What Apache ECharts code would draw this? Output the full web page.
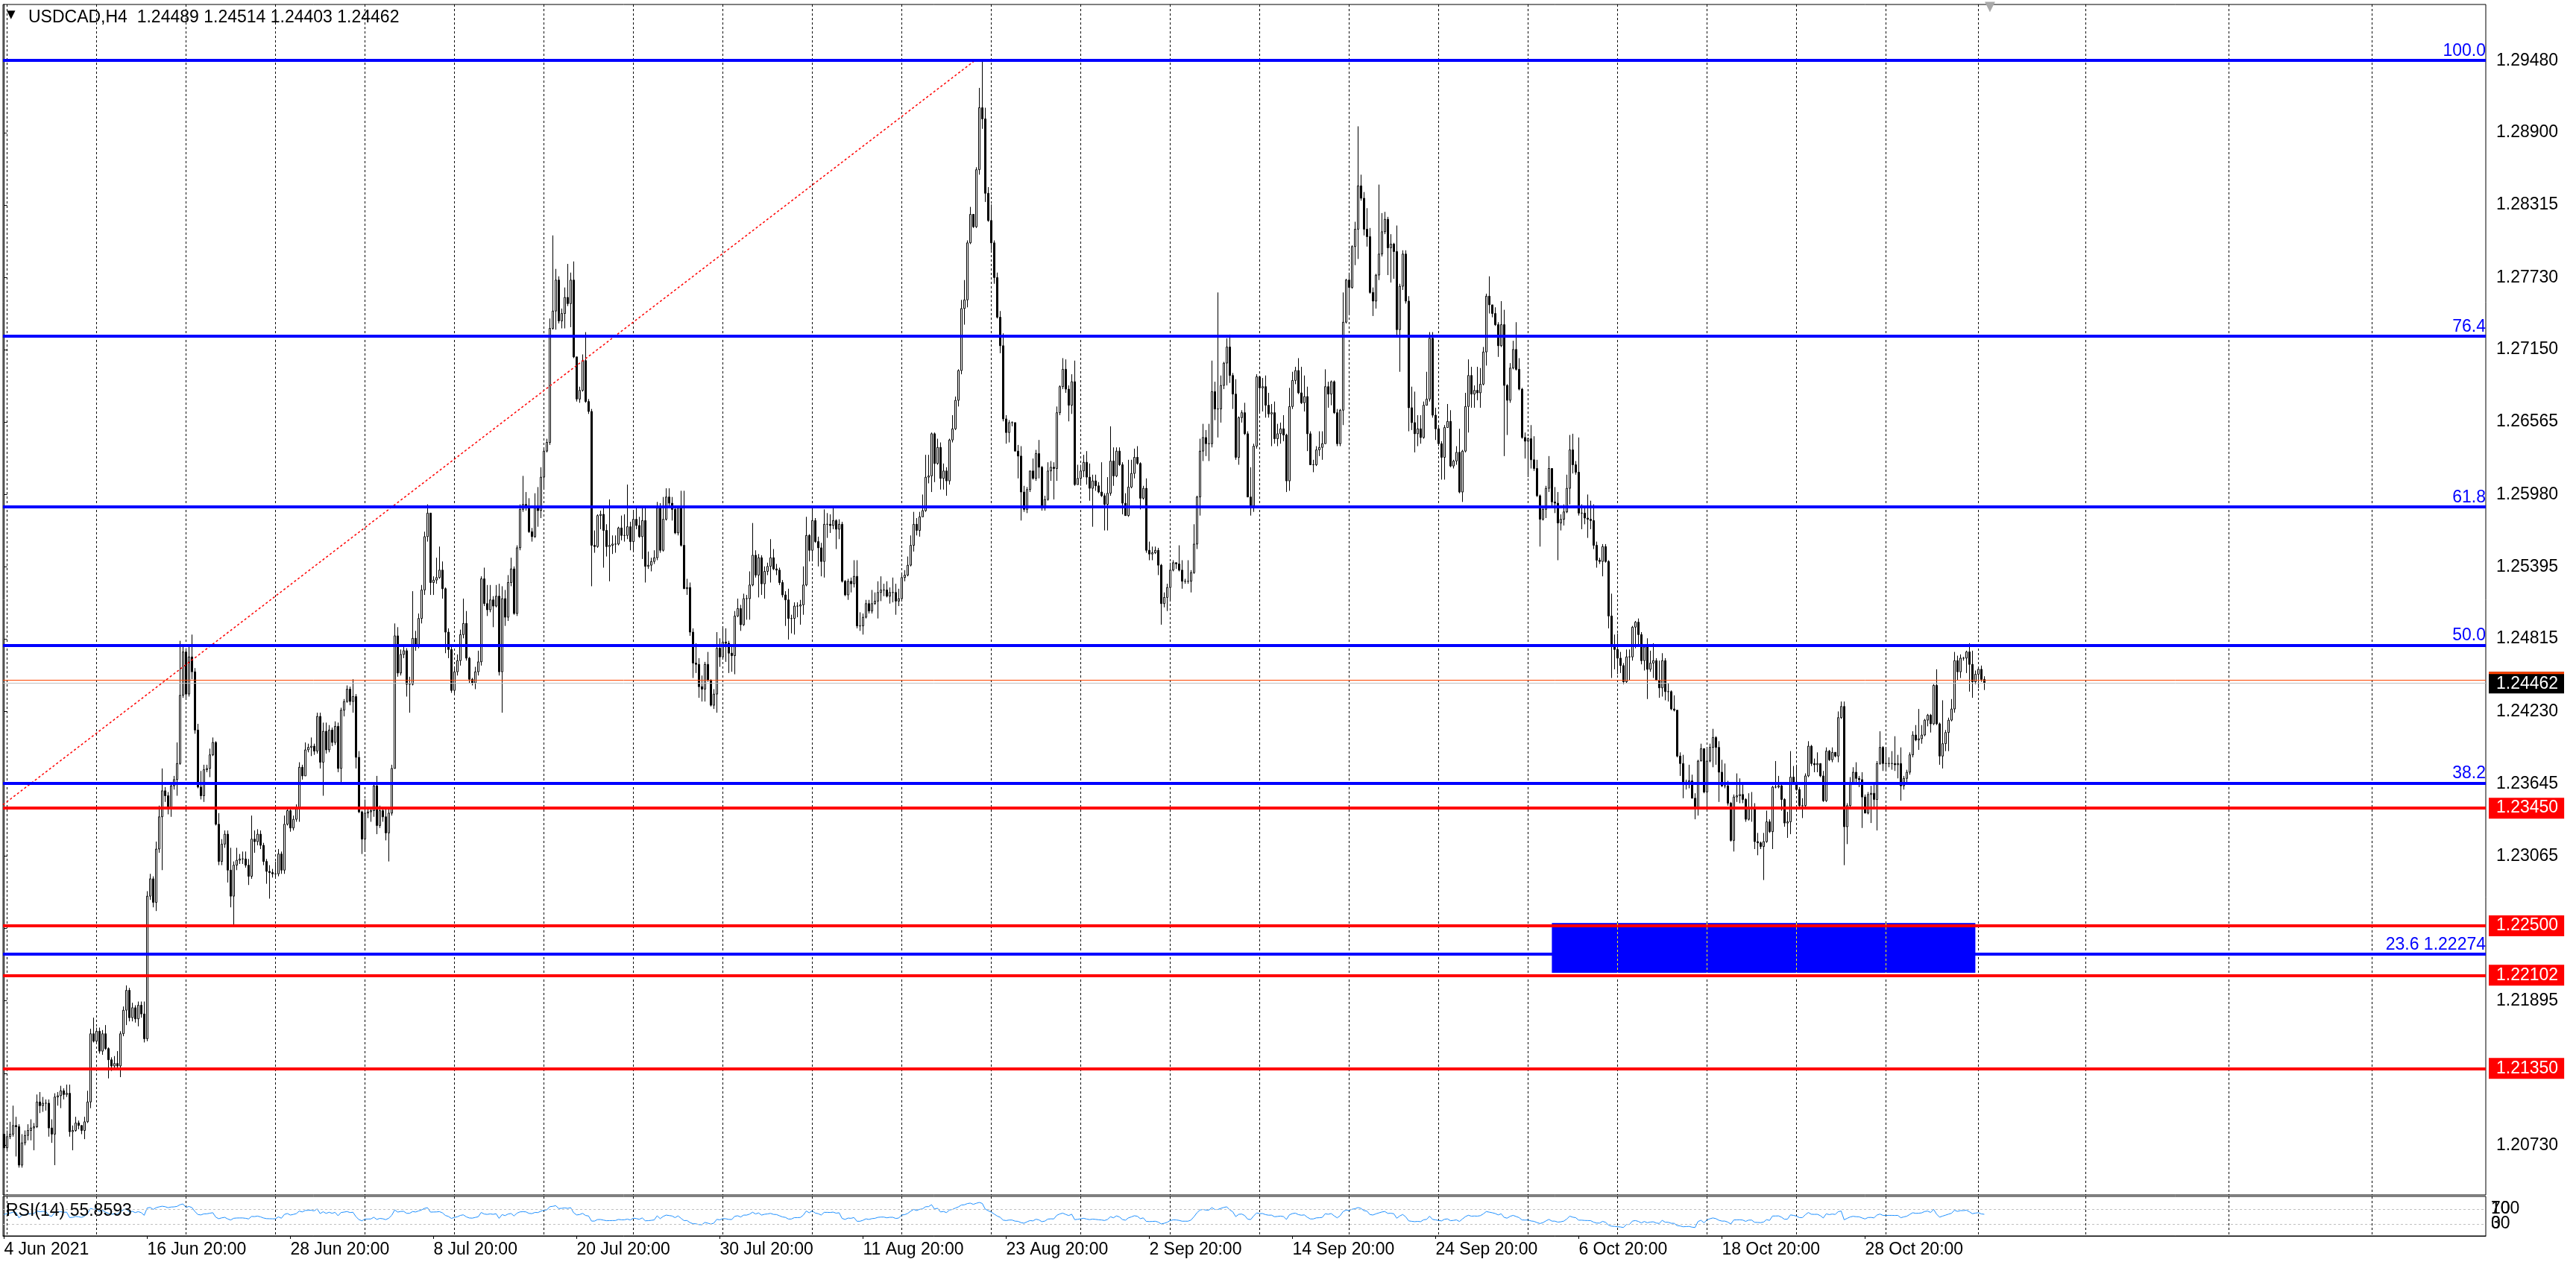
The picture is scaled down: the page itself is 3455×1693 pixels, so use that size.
<!DOCTYPE html>
<html><head><meta charset="utf-8">
<script src="https://cdn.jsdelivr.net/npm/echarts@6/dist/echarts.min.js"></script>
<style>html,body{margin:0;padding:0;background:#fff;overflow:hidden}#c{width:3455px;height:1693px}</style>
</head><body><div id="c"></div><script>
const symbolText = 'USDCAD,H4  1.24489 1.24514 1.24403 1.24462';
const rsiText = 'RSI(14) 55.8593';
const rsiPeriod = 14;
const firstOpen = 1.2082; // each later H4 bar opens at the previous close
const closes = [
1.2071,1.2080,1.2082,1.2089,1.2088,1.2057,1.2075,1.2081,1.2085,1.2087,
1.2088,1.2108,1.2105,1.2107,1.2107,1.2087,1.2082,1.2112,1.2113,1.2117,
1.2114,1.2115,1.2084,1.2085,1.2091,1.2089,1.2085,1.2092,1.2108,1.2163,
1.2157,1.2165,1.2149,1.2163,1.2151,1.2142,1.2137,1.2139,1.2137,1.2163,
1.2182,1.2198,1.2176,1.2184,1.2175,1.2186,1.2179,1.2159,1.2274,1.2288,
1.2269,1.2312,1.2338,1.2359,1.2355,1.2345,1.2363,1.2368,1.2381,1.2436,
1.2471,1.2437,1.2467,1.2455,1.2408,1.2362,1.2355,1.2376,1.2377,1.2388,
1.2398,1.2332,1.2302,1.2316,1.2324,1.2295,1.2274,1.2299,1.2303,1.2304,
1.2304,1.2299,1.2290,1.2320,1.2318,1.2324,1.2315,1.2302,1.2294,1.2293,
1.2292,1.2292,1.2308,1.2295,1.2332,1.2343,1.2329,1.2336,1.2345,1.2378,
1.2371,1.2392,1.2394,1.2395,1.2391,1.2419,1.2382,1.2407,1.2392,1.2408,
1.2398,1.2411,1.2377,1.2424,1.2431,1.2441,1.2431,1.2435,1.2386,1.2342,
1.2320,1.2341,1.2342,1.2343,1.2363,1.2331,1.2343,1.2338,1.2325,1.2341,
1.2377,1.2484,1.2454,1.2469,1.2472,1.2445,1.2445,1.2482,1.2476,1.2498,
1.2521,1.2564,1.2583,1.2527,1.2529,1.2531,1.2537,1.2522,1.2487,1.2473,
1.2440,1.2455,1.2464,1.2485,1.2494,1.2466,1.2449,1.2446,1.2455,1.2463,
1.2530,1.2510,1.2505,1.2513,1.2508,1.2516,1.2455,1.2514,1.2499,1.2527,
1.2538,1.2502,1.2555,1.2586,1.2590,1.2588,1.2568,1.2564,1.2587,1.2585,
1.2612,1.2633,1.2640,1.2732,1.2746,1.2771,1.2738,1.2744,1.2757,1.2752,
1.2771,1.2709,1.2675,1.2682,1.2706,1.2673,1.2665,1.2557,1.2556,1.2581,
1.2582,1.2569,1.2556,1.2557,1.2558,1.2558,1.2571,1.2565,1.2565,1.2572,
1.2560,1.2578,1.2573,1.2564,1.2577,1.2540,1.2541,1.2544,1.2547,1.2587,
1.2553,1.2578,1.2596,1.2591,1.2586,1.2567,1.2587,1.2557,1.2522,1.2523,
1.2487,1.2462,1.2461,1.2443,1.2441,1.2461,1.2448,1.2428,1.2437,1.2474,
1.2467,1.2479,1.2478,1.2470,1.2468,1.2500,1.2506,1.2493,1.2514,1.2514,
1.2525,1.2549,1.2533,1.2547,1.2526,1.2536,1.2540,1.2547,1.2538,1.2537,
1.2527,1.2517,1.2513,1.2498,1.2498,1.2508,1.2508,1.2509,1.2525,1.2565,
1.2553,1.2577,1.2560,1.2555,1.2544,1.2574,1.2574,1.2573,1.2577,1.2570,
1.2574,1.2528,1.2517,1.2528,1.2526,1.2532,1.2492,1.2492,1.2499,1.2510,
1.2504,1.2510,1.2512,1.2519,1.2521,1.2521,1.2516,1.2519,1.2519,1.2512,
1.2514,1.2531,1.2533,1.2541,1.2557,1.2574,1.2569,1.2580,1.2585,1.2612,
1.2613,1.2647,1.2623,1.2636,1.2611,1.2617,1.2609,1.2642,1.2651,1.2674,
1.2698,1.2748,1.2755,1.2801,1.2824,1.2814,1.2860,1.2910,1.2901,1.2841,
1.2819,1.2801,1.2773,1.2741,1.2718,1.2659,1.2648,1.2656,1.2656,1.2633,
1.2629,1.2600,1.2586,1.2602,1.2617,1.2611,1.2631,1.2620,1.2587,1.2594,
1.2617,1.2620,1.2619,1.2664,1.2685,1.2699,1.2683,1.2670,1.2689,1.2606,
1.2611,1.2617,1.2624,1.2612,1.2603,1.2609,1.2605,1.2600,1.2597,1.2590,
1.2599,1.2625,1.2613,1.2633,1.2622,1.2591,1.2581,1.2604,1.2615,1.2628,
1.2623,1.2595,1.2603,1.2553,1.2550,1.2551,1.2553,1.2541,1.2510,1.2515,
1.2523,1.2537,1.2543,1.2542,1.2537,1.2528,1.2528,1.2528,1.2535,1.2558,
1.2596,1.2633,1.2644,1.2639,1.2639,1.2681,1.2667,1.2667,1.2686,1.2704,
1.2717,1.2694,1.2679,1.2628,1.2660,1.2664,1.2647,1.2596,1.2589,1.2637,
1.2693,1.2684,1.2685,1.2670,1.2663,1.2664,1.2643,1.2647,1.2651,1.2646,
1.2609,1.2669,1.2690,1.2698,1.2680,1.2672,1.2677,1.2647,1.2622,1.2622,
1.2634,1.2636,1.2639,1.2685,1.2679,1.2689,1.2664,1.2639,1.2666,1.2737,
1.2771,1.2765,1.2798,1.2812,1.2847,1.2837,1.2812,1.2806,1.2761,1.2754,
1.2775,1.2792,1.2810,1.2820,1.2797,1.2800,1.2794,1.2731,1.2766,1.2792,
1.2754,1.2668,1.2656,1.2647,1.2651,1.2644,1.2670,1.2675,1.2724,1.2662,
1.2651,1.2639,1.2628,1.2652,1.2657,1.2621,1.2625,1.2632,1.2600,1.2633,
1.2669,1.2694,1.2679,1.2682,1.2680,1.2687,1.2713,1.2758,1.2751,1.2744,
1.2735,1.2718,1.2735,1.2686,1.2674,1.2700,1.2715,1.2699,1.2683,1.2644,
1.2641,1.2643,1.2626,1.2619,1.2597,1.2578,1.2586,1.2603,1.2619,1.2592,
1.2591,1.2575,1.2578,1.2584,1.2603,1.2634,1.2622,1.2616,1.2583,1.2583,
1.2579,1.2578,1.2577,1.2557,1.2545,1.2544,1.2556,1.2544,1.2500,1.2477,
1.2473,1.2466,1.2460,1.2447,1.2467,1.2467,1.2491,1.2495,1.2485,1.2464,
1.2475,1.2457,1.2462,1.2464,1.2448,1.2442,1.2464,1.2439,1.2439,1.2425,
1.2424,1.2387,1.2381,1.2365,1.2366,1.2367,1.2353,1.2345,1.2383,1.2393,
1.2358,1.2383,1.2394,1.2402,1.2394,1.2374,1.2363,1.2363,1.2349,1.2319,
1.2354,1.2355,1.2356,1.2352,1.2336,1.2346,1.2346,1.2318,1.2317,1.2314,
1.2318,1.2334,1.2326,1.2362,1.2362,1.2363,1.2352,1.2333,1.2334,1.2370,
1.2366,1.2360,1.2347,1.2347,1.2371,1.2395,1.2381,1.2380,1.2381,1.2371,
1.2351,1.2391,1.2384,1.2390,1.2387,1.2418,1.2427,1.2330,1.2347,1.2365,
1.2374,1.2369,1.2368,1.2354,1.2341,1.2356,1.2357,1.2352,1.2381,1.2394,
1.2381,1.2381,1.2381,1.2381,1.2380,1.2381,1.2363,1.2369,1.2374,1.2388,
1.2404,1.2400,1.2401,1.2404,1.2416,1.2420,1.2413,1.2444,1.2413,1.2387,
1.2397,1.2406,1.2416,1.2425,1.2464,1.2455,1.2466,1.2466,1.2471,1.2461,
1.2447,1.2453,1.2457,1.24489,1.24462
];
const highs = [
1.2084,1.2085,1.2092,1.2105,1.2096,1.2090,1.2082,1.2085,1.2090,1.2094,
1.2091,1.2114,1.2116,1.2112,1.2110,1.2110,1.2094,1.2115,1.2116,1.2121,
1.2119,1.2122,1.2122,1.2089,1.2096,1.2093,1.2089,1.2096,1.2117,1.2167,
1.2176,1.2168,1.2168,1.2166,1.2170,1.2152,1.2144,1.2145,1.2149,1.2165,
1.2185,1.2202,1.2200,1.2188,1.2186,1.2189,1.2189,1.2189,1.2278,1.2292,
1.2290,1.2318,1.2347,1.2377,1.2362,1.2358,1.2366,1.2371,1.2398,1.2480,
1.2475,1.2474,1.2475,1.2485,1.2458,1.2413,1.2375,1.2380,1.2380,1.2393,
1.2402,1.2399,1.2341,1.2320,1.2327,1.2327,1.2313,1.2302,1.2313,1.2308,
1.2310,1.2310,1.2304,1.2339,1.2327,1.2328,1.2327,1.2317,1.2304,1.2299,
1.2296,1.2302,1.2312,1.2310,1.2339,1.2346,1.2346,1.2339,1.2348,1.2382,
1.2380,1.2398,1.2397,1.2402,1.2397,1.2422,1.2422,1.2414,1.2414,1.2412,
1.2410,1.2415,1.2414,1.2426,1.2433,1.2444,1.2443,1.2449,1.2437,1.2391,
1.2343,1.2352,1.2346,1.2346,1.2366,1.2371,1.2347,1.2345,1.2345,1.2345,
1.2380,1.2494,1.2491,1.2473,1.2476,1.2474,1.2451,1.2520,1.2488,1.2502,
1.2525,1.2568,1.2590,1.2583,1.2532,1.2547,1.2556,1.2544,1.2523,1.2490,
1.2475,1.2459,1.2469,1.2489,1.2514,1.2504,1.2467,1.2450,1.2459,1.2472,
1.2532,1.2539,1.2525,1.2525,1.2516,1.2525,1.2526,1.2524,1.2521,1.2533,
1.2547,1.2540,1.2557,1.2590,1.2613,1.2600,1.2595,1.2571,1.2599,1.2604,
1.2620,1.2636,1.2643,1.2740,1.2807,1.2780,1.2774,1.2748,1.2765,1.2784,
1.2777,1.2786,1.2709,1.2685,1.2711,1.2729,1.2675,1.2667,1.2569,1.2582,
1.2585,1.2587,1.2574,1.2594,1.2565,1.2565,1.2572,1.2581,1.2582,1.2606,
1.2576,1.2584,1.2589,1.2580,1.2589,1.2588,1.2552,1.2547,1.2553,1.2592,
1.2591,1.2596,1.2603,1.2603,1.2596,1.2588,1.2588,1.2601,1.2601,1.2530,
1.2527,1.2490,1.2478,1.2466,1.2452,1.2463,1.2471,1.2449,1.2441,1.2487,
1.2482,1.2491,1.2490,1.2480,1.2475,1.2504,1.2514,1.2509,1.2518,1.2517,
1.2536,1.2575,1.2553,1.2550,1.2549,1.2540,1.2543,1.2562,1.2554,1.2542,
1.2539,1.2529,1.2520,1.2522,1.2501,1.2511,1.2511,1.2513,1.2540,1.2580,
1.2566,1.2587,1.2579,1.2564,1.2559,1.2586,1.2583,1.2582,1.2587,1.2578,
1.2578,1.2576,1.2529,1.2530,1.2531,1.2545,1.2545,1.2503,1.2502,1.2513,
1.2513,1.2521,1.2519,1.2528,1.2532,1.2526,1.2528,1.2523,1.2531,1.2526,
1.2522,1.2535,1.2537,1.2548,1.2565,1.2584,1.2579,1.2584,1.2598,1.2630,
1.2630,1.2648,1.2648,1.2643,1.2640,1.2623,1.2620,1.2643,1.2662,1.2677,
1.2699,1.2755,1.2771,1.2803,1.2830,1.2824,1.2862,1.2926,1.29484,1.2910,
1.2846,1.2832,1.2803,1.2777,1.2746,1.2728,1.2662,1.2658,1.2657,1.2653,
1.2638,1.2637,1.2605,1.2604,1.2617,1.2627,1.2634,1.2642,1.2621,1.2597,
1.2624,1.2625,1.2624,1.2669,1.2686,1.2708,1.2707,1.2686,1.2695,1.2706,
1.2622,1.2622,1.2630,1.2633,1.2623,1.2614,1.2614,1.2608,1.2624,1.2599,
1.2612,1.2653,1.2636,1.2636,1.2636,1.2624,1.2599,1.2626,1.2626,1.2635,
1.2637,1.2624,1.2605,1.2611,1.2560,1.2556,1.2556,1.2555,1.2542,1.2519,
1.2526,1.2543,1.2545,1.2543,1.2557,1.2545,1.2530,1.2545,1.2537,1.2574,
1.2597,1.2643,1.2655,1.2650,1.2655,1.2706,1.2689,1.2761,1.2694,1.2705,
1.2724,1.2727,1.2696,1.2691,1.2661,1.2666,1.2672,1.2649,1.2620,1.2639,
1.2695,1.2689,1.2692,1.2694,1.2680,1.2671,1.2673,1.2655,1.2656,1.2662,
1.2647,1.2684,1.2697,1.2701,1.2708,1.2701,1.2694,1.2685,1.2649,1.2626,
1.2637,1.2649,1.2649,1.2699,1.2689,1.2690,1.2690,1.2667,1.2667,1.2761,
1.2772,1.2777,1.2799,1.2818,1.2895,1.2856,1.2842,1.2829,1.2813,1.2765,
1.2776,1.2848,1.2825,1.2826,1.2822,1.2808,1.2801,1.2815,1.2768,1.2795,
1.2795,1.2758,1.2685,1.2681,1.2662,1.2662,1.2673,1.2697,1.2729,1.2729,
1.2668,1.2654,1.2641,1.2654,1.2671,1.2666,1.2626,1.2637,1.2651,1.2634,
1.2680,1.2707,1.2701,1.2686,1.2701,1.2700,1.2717,1.2760,1.2774,1.2751,
1.2749,1.2737,1.2754,1.2747,1.2687,1.2704,1.2722,1.2737,1.2708,1.2684,
1.2648,1.2644,1.2654,1.2645,1.2626,1.2598,1.2587,1.2605,1.2629,1.2619,
1.2604,1.2600,1.2582,1.2590,1.2614,1.2646,1.2647,1.2625,1.2644,1.2590,
1.2587,1.2598,1.2593,1.2590,1.2560,1.2547,1.2558,1.2558,1.2545,1.2518,
1.2485,1.2486,1.2471,1.2462,1.2473,1.2473,1.2492,1.2496,1.2498,1.2487,
1.2477,1.2482,1.2472,1.2478,1.2466,1.2464,1.2470,1.2466,1.2446,1.2440,
1.2436,1.2424,1.2390,1.2388,1.2368,1.2380,1.2372,1.2357,1.2384,1.2397,
1.2393,1.2394,1.2397,1.2409,1.2403,1.2399,1.2384,1.2381,1.2367,1.2350,
1.2356,1.2373,1.2369,1.2365,1.2353,1.2357,1.2358,1.2349,1.2325,1.2318,
1.2325,1.2343,1.2336,1.2363,1.2383,1.2371,1.2364,1.2353,1.2342,1.2391,
1.2379,1.2380,1.2362,1.2353,1.2373,1.2399,1.2396,1.2385,1.2390,1.2373,
1.2375,1.2394,1.2392,1.2394,1.2390,1.2423,1.2431,1.2431,1.2349,1.2370,
1.2378,1.2382,1.2371,1.2374,1.2356,1.2358,1.2363,1.2365,1.2383,1.2407,
1.2395,1.2394,1.2386,1.2391,1.2403,1.2388,1.2394,1.2371,1.2376,1.2390,
1.2407,1.2412,1.2425,1.2412,1.2417,1.2421,1.2421,1.2445,1.2457,1.2414,
1.2432,1.2408,1.2418,1.2433,1.2471,1.2468,1.2469,1.2467,1.2472,1.2478,
1.2472,1.2456,1.2458,1.2460,1.24514
];
const lows = [
1.2069,1.2068,1.2078,1.2080,1.2064,1.2055,1.2055,1.2073,1.2077,1.2077,
1.2069,1.2087,1.2099,1.2100,1.2101,1.2080,1.2075,1.2057,1.2105,1.2103,
1.2110,1.2112,1.2080,1.2069,1.2084,1.2086,1.2082,1.2078,1.2091,1.2103,
1.2156,1.2155,1.2147,1.2146,1.2150,1.2127,1.2133,1.2135,1.2135,1.2128,
1.2161,1.2170,1.2173,1.2173,1.2172,1.2169,1.2176,1.2156,1.2157,1.2271,
1.2265,1.2262,1.2309,1.2295,1.2350,1.2340,1.2338,1.2360,1.2355,1.2380,
1.2434,1.2434,1.2435,1.2449,1.2405,1.2361,1.2352,1.2350,1.2374,1.2370,
1.2387,1.2331,1.2299,1.2299,1.2313,1.2285,1.2265,1.2251,1.2295,1.2300,
1.2300,1.2297,1.2283,1.2288,1.2309,1.2315,1.2312,1.2299,1.2284,1.2272,
1.2289,1.2288,1.2290,1.2292,1.2292,1.2331,1.2326,1.2327,1.2334,1.2334,
1.2368,1.2371,1.2390,1.2387,1.2388,1.2389,1.2377,1.2355,1.2389,1.2390,
1.2395,1.2396,1.2374,1.2366,1.2419,1.2430,1.2428,1.2422,1.2377,1.2341,
1.2308,1.2311,1.2337,1.2334,1.2338,1.2324,1.2329,1.2334,1.2319,1.2302,
1.2339,1.2377,1.2451,1.2452,1.2466,1.2435,1.2422,1.2444,1.2472,1.2474,
1.2494,1.2517,1.2560,1.2517,1.2517,1.2526,1.2530,1.2514,1.2470,1.2466,
1.2438,1.2436,1.2452,1.2460,1.2482,1.2464,1.2446,1.2444,1.2441,1.2452,
1.2460,1.2508,1.2500,1.2503,1.2491,1.2507,1.2452,1.2422,1.2492,1.2496,
1.2524,1.2501,1.2500,1.2553,1.2584,1.2585,1.2567,1.2560,1.2563,1.2572,
1.2579,1.2602,1.2632,1.2638,1.2731,1.2731,1.2736,1.2732,1.2732,1.2750,
1.2733,1.2708,1.2673,1.2672,1.2681,1.2672,1.2663,1.2524,1.2551,1.2555,
1.2570,1.2539,1.2548,1.2528,1.2550,1.2551,1.2557,1.2561,1.2560,1.2562,
1.2553,1.2553,1.2570,1.2563,1.2546,1.2527,1.2538,1.2536,1.2542,1.2545,
1.2551,1.2552,1.2577,1.2587,1.2577,1.2566,1.2565,1.2556,1.2522,1.2517,
1.2484,1.2450,1.2454,1.2434,1.2431,1.2431,1.2447,1.2427,1.2425,1.2422,
1.2459,1.2466,1.2463,1.2454,1.2455,1.2453,1.2499,1.2488,1.2492,1.2497,
1.2497,1.2524,1.2531,1.2515,1.2517,1.2514,1.2533,1.2527,1.2537,1.2533,
1.2525,1.2515,1.2492,1.2481,1.2486,1.2485,1.2499,1.2493,1.2501,1.2524,
1.2544,1.2544,1.2559,1.2540,1.2532,1.2531,1.2563,1.2567,1.2570,1.2554,
1.2562,1.2527,1.2516,1.2513,1.2519,1.2523,1.2490,1.2488,1.2485,1.2498,
1.2502,1.2502,1.2509,1.2498,1.2512,1.2516,1.2515,1.2510,1.2511,1.2501,
1.2508,1.2512,1.2528,1.2532,1.2540,1.2552,1.2565,1.2564,1.2583,1.2584,
1.2607,1.2600,1.2608,1.2622,1.2602,1.2602,1.2597,1.2606,1.2640,1.2650,
1.2669,1.2695,1.2735,1.2749,1.2800,1.2813,1.2813,1.2856,1.2893,1.2834,
1.2818,1.2795,1.2768,1.2740,1.2712,1.2657,1.2639,1.2640,1.2653,1.2633,
1.2611,1.2577,1.2584,1.2583,1.2600,1.2610,1.2609,1.2611,1.2585,1.2585,
1.2593,1.2609,1.2594,1.2609,1.2662,1.2683,1.2680,1.2657,1.2663,1.2605,
1.2606,1.2605,1.2612,1.2606,1.2593,1.2572,1.2601,1.2599,1.2596,1.2569,
1.2569,1.2597,1.2605,1.2612,1.2621,1.2582,1.2581,1.2580,1.2603,1.2611,
1.2622,1.2586,1.2594,1.2551,1.2545,1.2545,1.2550,1.2533,1.2493,1.2507,
1.2504,1.2513,1.2536,1.2538,1.2536,1.2522,1.2526,1.2526,1.2519,1.2534,
1.2554,1.2581,1.2625,1.2629,1.2625,1.2636,1.2658,1.2644,1.2656,1.2683,
1.2686,1.2688,1.2667,1.2626,1.2622,1.2656,1.2646,1.2596,1.2581,1.2584,
1.2635,1.2664,1.2665,1.2660,1.2660,1.2637,1.2639,1.2637,1.2639,1.2641,
1.2600,1.2601,1.2667,1.2687,1.2679,1.2671,1.2665,1.2633,1.2622,1.2616,
1.2621,1.2629,1.2626,1.2639,1.2668,1.2670,1.2663,1.2637,1.2637,1.2654,
1.2736,1.2744,1.2764,1.2783,1.2788,1.2835,1.2807,1.2798,1.2760,1.2742,
1.2748,1.2771,1.2790,1.2808,1.2775,1.2769,1.2772,1.2726,1.2697,1.2763,
1.2752,1.2649,1.2650,1.2632,1.2637,1.2639,1.2643,1.2670,1.2673,1.2660,
1.2642,1.2637,1.2610,1.2610,1.2652,1.2620,1.2619,1.2622,1.2599,1.2592,
1.2632,1.2648,1.2668,1.2668,1.2674,1.2668,1.2686,1.2702,1.2744,1.2741,
1.2734,1.2709,1.2717,1.2629,1.2646,1.2672,1.2699,1.2698,1.2682,1.2643,
1.2627,1.2612,1.2619,1.2617,1.2596,1.2556,1.2577,1.2579,1.2600,1.2587,
1.2583,1.2545,1.2569,1.2573,1.2583,1.2590,1.2615,1.2614,1.2581,1.2570,
1.2574,1.2563,1.2570,1.2554,1.2539,1.2542,1.2532,1.2543,1.2490,1.2450,
1.2457,1.2453,1.2454,1.2445,1.2446,1.2448,1.2464,1.2474,1.2477,1.2461,
1.2456,1.2433,1.2455,1.2450,1.2448,1.2434,1.2435,1.2432,1.2431,1.2424,
1.2423,1.2386,1.2371,1.2353,1.2360,1.2361,1.2353,1.2336,1.2339,1.2383,
1.2357,1.2346,1.2382,1.2378,1.2380,1.2350,1.2362,1.2361,1.2347,1.2318,
1.2310,1.2350,1.2349,1.2349,1.2334,1.2335,1.2334,1.2312,1.2307,1.2312,
1.2287,1.2317,1.2325,1.2312,1.2361,1.2361,1.2343,1.2330,1.2321,1.2324,
1.2365,1.2359,1.2346,1.2337,1.2345,1.2370,1.2379,1.2374,1.2374,1.2370,
1.2350,1.2350,1.2383,1.2382,1.2386,1.2382,1.2417,1.2299,1.2316,1.2346,
1.2364,1.2366,1.2362,1.2329,1.2341,1.2340,1.2333,1.2345,1.2327,1.2380,
1.2375,1.2375,1.2378,1.2376,1.2375,1.2369,1.2351,1.2360,1.2366,1.2372,
1.2386,1.2399,1.2392,1.2397,1.2403,1.2411,1.2406,1.2412,1.2412,1.2380,
1.2377,1.2391,1.2391,1.2415,1.2422,1.2448,1.2450,1.2464,1.2454,1.2439,
1.2434,1.2445,1.2442,1.2447,1.24403
];
const timeLabels = ['4 Jun 2021','16 Jun 20:00','28 Jun 20:00','8 Jul 20:00','20 Jul 20:00','30 Jul 20:00','11 Aug 20:00','23 Aug 20:00','2 Sep 20:00','14 Sep 20:00','24 Sep 20:00','6 Oct 20:00','18 Oct 20:00','28 Oct 20:00'];
const timeLabelBars = [0,48,96,144,192,240,288,336,384,432,480,528,576,624];
const priceTicks = [1.29480,1.28900,1.28315,1.27730,1.27150,1.26565,1.25980,1.25395,1.24815,1.24230,1.23645,1.23065,1.22480,1.21895,1.21310,1.20730];
const fibNames = ['100.0','76.4','61.8','50.0','38.2','23.6 1.22274'];
const fibPrices = [1.29484,1.27257,1.25879,1.24766,1.23652,1.22274];
const levelPrices = [1.23450,1.22500,1.22102,1.21350];
const bidPrice = 1.24462;
const askPrice = 1.24481;
const zoneBars = [519, 661];
const zonePrices = [1.22524, 1.22122];
const trendBars = [-0.35, 325.7];
const trendPrices = [1.23477, 1.29484];
const rsiLevels = [70, 30];
const rsiAxisLabels = [['100','70'],['30','0']];

// ---- layout / style constants ----
const FONT = 'Liberation Sans';
const X_MIN = -0.35, X_MAX = 832.15;
const Y_MIN = 1.20330, Y_MAX = 1.29933;
// vertical grid positions (in bar units): every 30 bars over the data, wider beyond the last bar
const gridBars = Array.from({length: 22}, (_, k) => 0.9 + 30 * k).concat([661.9, 697.9, 745.9, 793.9]);
const labelMap = {}; timeLabelBars.forEach((b, k) => labelMap[b] = timeLabels[k]);

const opens = closes.map((c, i) => i === 0 ? firstOpen : closes[i - 1]);
const candleData = closes.map((c, i) => {
  const o = opens[i];
  return [i, o, c, Math.min(lows[i], o, c), Math.max(highs[i], o, c)];
});

// RSI(14) of the closes, Wilder smoothing seeded with the first-period mean
function rsiOf(cl, n) {
  const prices = [firstOpen].concat(cl);
  const g = [], l = [];
  for (let i = 1; i < prices.length; i++) { const d = prices[i] - prices[i-1]; g.push(d > 0 ? d : 0); l.push(d < 0 ? -d : 0); }
  let ag = 0, al = 0;
  for (let i = 0; i < n; i++) { ag += g[i] / n; al += l[i] / n; }
  const out = [];
  for (let i = 0; i < g.length; i++) {
    ag = (ag * (n - 1) + g[i]) / n; al = (al * (n - 1) + l[i]) / n;
    out.push(al === 0 ? 100 : 100 - 100 / (1 + ag / al));
  }
  return out;
}
const rsiVals = rsiOf(closes, rsiPeriod);

const txt = (size, color) => ({fontFamily: FONT, fontSize: size, color: color || '#000', fontWeight: 'normal'});

const mainLines = [];
mainLines.push([
  {coord: [trendBars[0], trendPrices[0]], lineStyle: {color: '#FF0000', width: 1.5, type: [3, 3]}, label: {show: false}},
  {coord: [trendBars[1], trendPrices[1]]}
]);
fibPrices.forEach((p, k) => mainLines.push({
  yAxis: p, lineStyle: {color: '#0000FF', width: 4, type: 'solid'},
  label: Object.assign({show: true, position: 'insideEndTop', formatter: fibNames[k], distance: [0, 1]}, txt(23, '#0000FF'))
}));
mainLines.push({yAxis: askPrice, lineStyle: {color: '#FF4500', width: 1, type: 'solid'}, label: {show: false}});
mainLines.push({
  yAxis: bidPrice, lineStyle: {color: '#C0C0C0', width: 1, type: 'solid'},
  label: {show: true, position: 'end', distance: 4, formatter: '{s| }\n{t|' + bidPrice.toFixed(5) + '}',
    backgroundColor: '#000', padding: 0,
    rich: {s: {width: 101, height: 3, lineHeight: 3, fontSize: 1, backgroundColor: '#FF4500'},
           t: {color: '#fff', fontSize: 23, fontFamily: FONT, lineHeight: 26, width: 91, padding: [0, 0, 0, 10]}}}
});
levelPrices.forEach(p => mainLines.push({
  yAxis: p, lineStyle: {color: '#FF0000', width: 4, type: 'solid'},
  label: Object.assign({show: true, position: 'end', distance: 4, formatter: p.toFixed(5),
    backgroundColor: '#FF0000', padding: [3, 8, 2, 10]}, txt(23, '#fff'))
}));
gridBars.filter(g => g > zoneBars[0] && g < zoneBars[1]).forEach(g => mainLines.push([
  {coord: [g, zonePrices[0]], lineStyle: {color: '#FFFF00', width: 1, type: [3, 3]}, label: {show: false}},
  {coord: [g, zonePrices[1]]}
]));

const rsiLines = [];
rsiLevels.forEach((v, k) => rsiAxisLabels[k].forEach(t => rsiLines.push({
  yAxis: v, lineStyle: {color: '#C0C0C0', width: 1, type: [3, 3]},
  label: Object.assign({show: true, position: 'end', distance: 7, formatter: t}, txt(23))
})));

const chart = echarts.init(document.getElementById('c'), null, {renderer: 'canvas'});
chart.setOption({
  animation: false,
  backgroundColor: '#fff',
  title: [
    {text: '\u25BC', left: 9, top: 13, padding: 0, textStyle: {fontFamily: 'DejaVu Sans', fontSize: 15, color: '#000', fontWeight: 'normal'}},
    {text: symbolText, left: 38, top: 12, padding: 0, textStyle: txt(23)},
    {text: rsiText, left: 8, top: 1613, padding: 0, textStyle: txt(23)},
    {text: '\u25BC', left: 2662, top: 0, padding: 0, textStyle: {fontFamily: 'DejaVu Sans', fontSize: 18, color: '#A8A8A8', fontWeight: 'normal'}}
  ],
  grid: [
    {left: 4, right: 121, top: 6, height: 1597, show: true, borderColor: '#000', borderWidth: 1, backgroundColor: 'transparent'},
    {left: 4, right: 121, top: 1605, height: 53, show: true, borderColor: '#000', borderWidth: 1, backgroundColor: 'transparent'}
  ],
  xAxis: [
    {gridIndex: 0, type: 'value', min: X_MIN, max: X_MAX, axisLine: {show: false}, axisLabel: {show: false},
     axisTick: {show: false, customValues: gridBars}, splitLine: {show: true, lineStyle: {color: '#000', width: 1, type: [3, 3]}}},
    {gridIndex: 1, type: 'value', min: X_MIN, max: X_MAX, position: 'bottom',
     axisLine: {show: true, onZero: false, lineStyle: {color: '#000', width: 1}},
     axisTick: {show: true, length: 4, customValues: timeLabelBars, lineStyle: {color: '#000'}},
     axisLabel: Object.assign({show: true, customValues: timeLabelBars, formatter: v => labelMap[v] || '', align: 'left', margin: 7}, txt(23)),
     splitLine: {show: false}},
    {gridIndex: 1, type: 'value', min: X_MIN, max: X_MAX, axisLine: {show: false}, axisLabel: {show: false},
     axisTick: {show: false, customValues: gridBars}, splitLine: {show: true, lineStyle: {color: '#000', width: 1, type: [3, 3]}}}
  ],
  yAxis: [
    {gridIndex: 0, type: 'value', position: 'right', min: Y_MIN, max: Y_MAX,
     axisLine: {show: true, lineStyle: {color: '#000', width: 1}},
     axisTick: {show: true, length: 4, customValues: priceTicks, lineStyle: {color: '#000'}},
     axisLabel: Object.assign({show: true, customValues: priceTicks, formatter: v => v.toFixed(5), margin: 14}, txt(23)),
     splitLine: {show: false}},
    {gridIndex: 1, type: 'value', position: 'right', min: -2, max: 104,
     axisLine: {show: true, lineStyle: {color: '#000', width: 1}}, axisTick: {show: false}, axisLabel: {show: false}, splitLine: {show: false}}
  ],
  series: [
    {type: 'candlestick', xAxisIndex: 0, yAxisIndex: 0, data: candleData, encode: {x: 0, y: [1, 2, 3, 4]},
     large: false, progressive: 0, barWidth: 2, clip: true,
     itemStyle: {color: '#FFFFFF', color0: '#000000', borderColor: '#000000', borderColor0: '#000000', borderColorDoji: '#000000', borderWidth: 1},
     markArea: {silent: true, itemStyle: {color: '#0000FF', opacity: 1, borderWidth: 0},
       data: [[{coord: [zoneBars[0], zonePrices[0]]}, {coord: [zoneBars[1], zonePrices[1]]}]]},
     markLine: {silent: true, animation: false, symbol: ['none', 'none'], precision: 5, data: mainLines}},
    {type: 'line', xAxisIndex: 1, yAxisIndex: 1, data: rsiVals.map((v, i) => [i, v]), symbol: 'none', showSymbol: false,
     lineStyle: {color: '#1E90FF', width: 1}, clip: true,
     markLine: {silent: true, animation: false, symbol: ['none', 'none'], data: rsiLines}}
  ]
});
</script></body></html>
